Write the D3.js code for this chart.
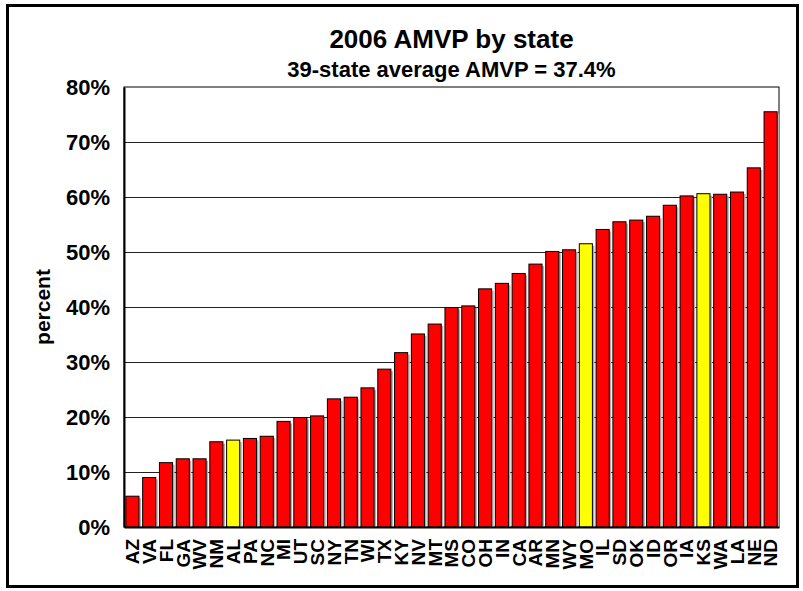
<!DOCTYPE html>
<html>
<head>
<meta charset="utf-8">
<script src="https://cdn.jsdelivr.net/npm/d3@7"></script>
<style>
  body { margin: 0; background: #fff; }
  svg text { font-family: "Liberation Sans", Arial, sans-serif; font-weight: bold; fill: #000; }
</style>
</head>
<body>
<div id="chart-container"></div>
<script>
// data
const states = ["AZ","VA","FL","GA","WV","NM","AL","PA","NC","MI",
  "UT","SC","NY","TN","WI","TX","KY","NV","MT","MS",
  "CO","OH","IN","CA","AR","MN","WY","MO","IL","SD",
  "OK","ID","OR","IA","KS","WA","LA","NE","ND"];
const amvp = [5.6, 9.0, 11.7, 12.4, 12.4, 15.5, 15.8, 16.1, 16.5, 19.2,
  19.9, 20.2, 23.3, 23.6, 25.3, 28.7, 31.7, 35.1, 36.9, 39.9,
  40.2, 43.3, 44.3, 46.1, 47.8, 50.1, 50.4, 51.5, 54.1, 55.5,
  55.8, 56.5, 58.5, 60.2, 60.6, 60.5, 60.9, 65.3, 75.5];
const highlighted = ["AL", "MO", "KS"];
const yTicks = [0, 10, 20, 30, 40, 50, 60, 70, 80];
const titleText = "2006 AMVP by state";
const subtitleText = "39-state average AMVP = 37.4%";
const yLabel = "percent";

const data = states.map((s, i) => ({ state: s, value: amvp[i] }));

const width = 803, height = 591;
const margin = { top: 87, left: 124, right: 24, bottom: 64 };
const plotW = width - margin.left - margin.right;
const plotH = height - margin.top - margin.bottom;

const svg = d3.select("#chart-container").append("svg")
  .attr("width", width)
  .attr("height", height);

// outer frame
svg.append("rect")
  .attr("x", 7.5).attr("y", 5.5)
  .attr("width", 790).attr("height", 581)
  .attr("fill", "#fff")
  .attr("stroke", "#000")
  .attr("stroke-width", 3);

const x = d3.scaleBand()
  .domain(states)
  .range([0, plotW])
  .paddingInner(0.22)
  .paddingOuter(0.11);

const y = d3.scaleLinear()
  .domain([0, 80])
  .range([plotH, 0]);

const g = svg.append("g")
  .attr("transform", `translate(${margin.left},${margin.top})`);

// plot border
g.append("rect")
  .attr("x", 0).attr("y", 0)
  .attr("width", plotW).attr("height", plotH)
  .attr("fill", "#fff")
  .attr("stroke", "#000")
  .attr("stroke-width", 1);

// gridlines
g.selectAll(".grid")
  .data(yTicks.filter(d => d > 0 && d < 80))
  .join("line")
  .attr("class", "grid")
  .attr("x1", 0).attr("x2", plotW)
  .attr("y1", d => Math.round(y(d)) + 0.5)
  .attr("y2", d => Math.round(y(d)) + 0.5)
  .attr("stroke", "#222")
  .attr("stroke-width", 1);

// bar shadows
g.selectAll(".shadow")
  .data(data)
  .join("rect")
  .attr("class", "shadow")
  .attr("x", d => x(d.state) + 2)
  .attr("y", d => y(d.value) + 2)
  .attr("width", x.bandwidth())
  .attr("height", d => plotH - y(d.value) - 2)
  .attr("fill", "#b0b0b0");

// bars
g.selectAll(".bar")
  .data(data)
  .join("rect")
  .attr("class", "bar")
  .attr("x", d => x(d.state))
  .attr("y", d => y(d.value))
  .attr("width", x.bandwidth())
  .attr("height", d => plotH - y(d.value))
  .attr("fill", d => highlighted.includes(d.state) ? "#ffff00" : "#ff0000")
  .attr("stroke", "#000")
  .attr("stroke-width", 1);

// y axis
const yAxis = g.append("g")
  .call(d3.axisLeft(y).tickValues(yTicks).tickSize(0).tickPadding(14)
    .tickFormat(d => d + "%"));
yAxis.select(".domain").attr("stroke", "#000").attr("stroke-width", 2);
yAxis.selectAll("text")
  .style("font-size", "22px")
  .attr("dy", "0.36em");

// x axis
const xAxis = g.append("g")
  .attr("transform", `translate(0,${plotH})`)
  .call(d3.axisBottom(x).tickSize(0).tickPadding(0));
xAxis.select(".domain").attr("stroke", "#000").attr("stroke-width", 2);
xAxis.selectAll("text")
  .style("font-size", "19px")
  .attr("text-anchor", "end")
  .attr("transform", "rotate(-90)")
  .attr("x", -12)
  .attr("y", 0)
  .attr("dy", "0.36em");

// titles
svg.append("text")
  .attr("x", margin.left + plotW / 2)
  .attr("y", 48)
  .attr("text-anchor", "middle")
  .style("font-size", "26px")
  .text(titleText);

svg.append("text")
  .attr("x", margin.left + plotW / 2)
  .attr("y", 77)
  .attr("text-anchor", "middle")
  .style("font-size", "22px")
  .text(subtitleText);

svg.append("text")
  .attr("transform", `translate(50,${margin.top + plotH / 2}) rotate(-90)`)
  .attr("text-anchor", "middle")
  .style("font-size", "21px")
  .text(yLabel);
</script>
</body>
</html>
